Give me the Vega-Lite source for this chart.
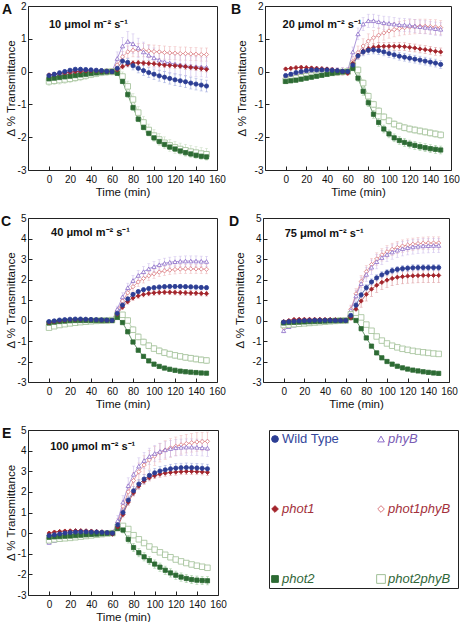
{
"$schema":"https://vega.github.io/schema/vega-lite/v6.json",
"padding":0,
"background":"white",
"config":{
 "font":"Liberation Sans",
 "view":{"stroke":"#222","strokeWidth":1},
 "axis":{"grid":false,"domain":false,"labelFont":"Liberation Sans","labelFontSize":10,"labelColor":"#111","titleFont":"Liberation Sans","titleFontSize":11.5,"titleFontWeight":"normal","titleColor":"#111","tickColor":"#222","tickSize":-4,"tickWidth":1,"labelOverlap":false,"tickCount":20},
 "axisX":{"labelPadding":8,"titlePadding":2},
 "axisY":{"labelPadding":6,"titlePadding":1,"labelExpr":"''+datum.value"},
 "title":{"font":"Liberation Sans","fontSize":14,"fontWeight":"bold","color":"#111","anchor":"start","frame":"group","offset":-16,"baseline":"alphabetic"}
},
"datasets":{
"A":[
{"g":"1b","t":0,"v":-0.2,"e":0.1},{"g":"1b","t":5,"v":-0.17,"e":0.1},{"g":"1b","t":10,"v":-0.14,"e":0.1},{"g":"1b","t":15,"v":-0.11,"e":0.1},{"g":"1b","t":20,"v":-0.08,"e":0.1},{"g":"1b","t":25,"v":-0.06,"e":0.1},{"g":"1b","t":30,"v":-0.04,"e":0.1},{"g":"1b","t":35,"v":-0.03,"e":0.1},{"g":"1b","t":40,"v":-0.02,"e":0.1},{"g":"1b","t":45,"v":-0.01,"e":0.1},{"g":"1b","t":50,"v":0,"e":0.1},{"g":"1b","t":55,"v":0,"e":0.1},{"g":"1b","t":60,"v":0,"e":0.1},{"g":"1b","t":65,"v":0.2,"e":0.13},{"g":"1b","t":70,"v":0.45,"e":0.16},{"g":"1b","t":75,"v":0.6,"e":0.18},{"g":"1b","t":80,"v":0.65,"e":0.2},{"g":"1b","t":85,"v":0.66,"e":0.2},{"g":"1b","t":90,"v":0.65,"e":0.2},{"g":"1b","t":95,"v":0.63,"e":0.2},{"g":"1b","t":100,"v":0.61,"e":0.2},{"g":"1b","t":105,"v":0.6,"e":0.2},{"g":"1b","t":110,"v":0.58,"e":0.2},{"g":"1b","t":115,"v":0.57,"e":0.2},{"g":"1b","t":120,"v":0.56,"e":0.2},{"g":"1b","t":125,"v":0.55,"e":0.2},{"g":"1b","t":130,"v":0.55,"e":0.2},{"g":"1b","t":135,"v":0.54,"e":0.2},{"g":"1b","t":140,"v":0.53,"e":0.2},{"g":"1b","t":145,"v":0.52,"e":0.2},{"g":"1b","t":150,"v":0.52,"e":0.2},
{"g":"b","t":0,"v":-0.15,"e":0.08},{"g":"b","t":5,"v":-0.1,"e":0.08},{"g":"b","t":10,"v":-0.06,"e":0.08},{"g":"b","t":15,"v":-0.03,"e":0.08},{"g":"b","t":20,"v":0,"e":0.08},{"g":"b","t":25,"v":0.02,"e":0.08},{"g":"b","t":30,"v":0.03,"e":0.08},{"g":"b","t":35,"v":0.03,"e":0.08},{"g":"b","t":40,"v":0.02,"e":0.08},{"g":"b","t":45,"v":0.02,"e":0.08},{"g":"b","t":50,"v":0.01,"e":0.08},{"g":"b","t":55,"v":0,"e":0.08},{"g":"b","t":60,"v":0,"e":0.08},{"g":"b","t":65,"v":0.4,"e":0.2},{"g":"b","t":70,"v":0.78,"e":0.26},{"g":"b","t":75,"v":0.92,"e":0.3},{"g":"b","t":80,"v":0.85,"e":0.3},{"g":"b","t":85,"v":0.72,"e":0.3},{"g":"b","t":90,"v":0.6,"e":0.3},{"g":"b","t":95,"v":0.5,"e":0.3},{"g":"b","t":100,"v":0.42,"e":0.3},{"g":"b","t":105,"v":0.35,"e":0.3},{"g":"b","t":110,"v":0.3,"e":0.3},{"g":"b","t":115,"v":0.26,"e":0.3},{"g":"b","t":120,"v":0.23,"e":0.3},{"g":"b","t":125,"v":0.2,"e":0.3},{"g":"b","t":130,"v":0.18,"e":0.3},{"g":"b","t":135,"v":0.16,"e":0.3},{"g":"b","t":140,"v":0.15,"e":0.3},{"g":"b","t":145,"v":0.14,"e":0.3},{"g":"b","t":150,"v":0.13,"e":0.3},
{"g":"2b","t":0,"v":-0.3,"e":0.12},{"g":"2b","t":5,"v":-0.28,"e":0.12},{"g":"2b","t":10,"v":-0.26,"e":0.12},{"g":"2b","t":15,"v":-0.24,"e":0.12},{"g":"2b","t":20,"v":-0.22,"e":0.12},{"g":"2b","t":25,"v":-0.19,"e":0.12},{"g":"2b","t":30,"v":-0.16,"e":0.12},{"g":"2b","t":35,"v":-0.12,"e":0.12},{"g":"2b","t":40,"v":-0.09,"e":0.1},{"g":"2b","t":45,"v":-0.06,"e":0.1},{"g":"2b","t":50,"v":-0.03,"e":0.1},{"g":"2b","t":55,"v":-0.01,"e":0.1},{"g":"2b","t":60,"v":0,"e":0.1},{"g":"2b","t":65,"v":0,"e":0.12},{"g":"2b","t":70,"v":-0.15,"e":0.14},{"g":"2b","t":75,"v":-0.45,"e":0.16},{"g":"2b","t":80,"v":-0.85,"e":0.18},{"g":"2b","t":85,"v":-1.25,"e":0.18},{"g":"2b","t":90,"v":-1.55,"e":0.18},{"g":"2b","t":95,"v":-1.78,"e":0.18},{"g":"2b","t":100,"v":-1.95,"e":0.18},{"g":"2b","t":105,"v":-2.07,"e":0.18},{"g":"2b","t":110,"v":-2.17,"e":0.18},{"g":"2b","t":115,"v":-2.25,"e":0.18},{"g":"2b","t":120,"v":-2.31,"e":0.18},{"g":"2b","t":125,"v":-2.36,"e":0.18},{"g":"2b","t":130,"v":-2.4,"e":0.18},{"g":"2b","t":135,"v":-2.44,"e":0.18},{"g":"2b","t":140,"v":-2.47,"e":0.18},{"g":"2b","t":145,"v":-2.5,"e":0.18},{"g":"2b","t":150,"v":-2.52,"e":0.18},
{"g":"2","t":0,"v":-0.22,"e":0.05},{"g":"2","t":5,"v":-0.2,"e":0.05},{"g":"2","t":10,"v":-0.18,"e":0.05},{"g":"2","t":15,"v":-0.16,"e":0.05},{"g":"2","t":20,"v":-0.14,"e":0.05},{"g":"2","t":25,"v":-0.12,"e":0.05},{"g":"2","t":30,"v":-0.1,"e":0.05},{"g":"2","t":35,"v":-0.08,"e":0.05},{"g":"2","t":40,"v":-0.06,"e":0.05},{"g":"2","t":45,"v":-0.04,"e":0.05},{"g":"2","t":50,"v":-0.02,"e":0.05},{"g":"2","t":55,"v":-0.01,"e":0.05},{"g":"2","t":60,"v":0,"e":0.05},{"g":"2","t":65,"v":-0.05,"e":0.06},{"g":"2","t":70,"v":-0.3,"e":0.07},{"g":"2","t":75,"v":-0.7,"e":0.08},{"g":"2","t":80,"v":-1.1,"e":0.08},{"g":"2","t":85,"v":-1.45,"e":0.08},{"g":"2","t":90,"v":-1.7,"e":0.08},{"g":"2","t":95,"v":-1.88,"e":0.08},{"g":"2","t":100,"v":-2.02,"e":0.08},{"g":"2","t":105,"v":-2.13,"e":0.08},{"g":"2","t":110,"v":-2.22,"e":0.08},{"g":"2","t":115,"v":-2.3,"e":0.08},{"g":"2","t":120,"v":-2.36,"e":0.08},{"g":"2","t":125,"v":-2.42,"e":0.08},{"g":"2","t":130,"v":-2.47,"e":0.08},{"g":"2","t":135,"v":-2.51,"e":0.08},{"g":"2","t":140,"v":-2.55,"e":0.08},{"g":"2","t":145,"v":-2.58,"e":0.08},{"g":"2","t":150,"v":-2.6,"e":0.08},
{"g":"1","t":0,"v":-0.1,"e":0.05},{"g":"1","t":5,"v":-0.08,"e":0.05},{"g":"1","t":10,"v":-0.06,"e":0.05},{"g":"1","t":15,"v":-0.04,"e":0.05},{"g":"1","t":20,"v":-0.02,"e":0.05},{"g":"1","t":25,"v":0,"e":0.05},{"g":"1","t":30,"v":0.01,"e":0.05},{"g":"1","t":35,"v":0.02,"e":0.05},{"g":"1","t":40,"v":0.02,"e":0.05},{"g":"1","t":45,"v":0.02,"e":0.05},{"g":"1","t":50,"v":0.01,"e":0.05},{"g":"1","t":55,"v":0,"e":0.05},{"g":"1","t":60,"v":0,"e":0.05},{"g":"1","t":65,"v":0.05,"e":0.06},{"g":"1","t":70,"v":0.15,"e":0.07},{"g":"1","t":75,"v":0.22,"e":0.08},{"g":"1","t":80,"v":0.26,"e":0.08},{"g":"1","t":85,"v":0.27,"e":0.08},{"g":"1","t":90,"v":0.26,"e":0.08},{"g":"1","t":95,"v":0.25,"e":0.08},{"g":"1","t":100,"v":0.24,"e":0.08},{"g":"1","t":105,"v":0.22,"e":0.08},{"g":"1","t":110,"v":0.2,"e":0.08},{"g":"1","t":115,"v":0.19,"e":0.08},{"g":"1","t":120,"v":0.18,"e":0.08},{"g":"1","t":125,"v":0.17,"e":0.08},{"g":"1","t":130,"v":0.15,"e":0.08},{"g":"1","t":135,"v":0.13,"e":0.08},{"g":"1","t":140,"v":0.11,"e":0.08},{"g":"1","t":145,"v":0.09,"e":0.08},{"g":"1","t":150,"v":0.07,"e":0.08},
{"g":"w","t":0,"v":-0.12,"e":0.06},{"g":"w","t":5,"v":-0.08,"e":0.06},{"g":"w","t":10,"v":-0.04,"e":0.06},{"g":"w","t":15,"v":0,"e":0.06},{"g":"w","t":20,"v":0.04,"e":0.06},{"g":"w","t":25,"v":0.07,"e":0.06},{"g":"w","t":30,"v":0.07,"e":0.06},{"g":"w","t":35,"v":0.06,"e":0.06},{"g":"w","t":40,"v":0.05,"e":0.06},{"g":"w","t":45,"v":0.04,"e":0.06},{"g":"w","t":50,"v":0.03,"e":0.06},{"g":"w","t":55,"v":0.01,"e":0.06},{"g":"w","t":60,"v":0,"e":0.06},{"g":"w","t":65,"v":0.1,"e":0.08},{"g":"w","t":70,"v":0.32,"e":0.1},{"g":"w","t":75,"v":0.28,"e":0.12},{"g":"w","t":80,"v":0.18,"e":0.13},{"g":"w","t":85,"v":0.1,"e":0.14},{"g":"w","t":90,"v":0.03,"e":0.15},{"g":"w","t":95,"v":-0.03,"e":0.15},{"g":"w","t":100,"v":-0.08,"e":0.16},{"g":"w","t":105,"v":-0.13,"e":0.16},{"g":"w","t":110,"v":-0.17,"e":0.17},{"g":"w","t":115,"v":-0.21,"e":0.17},{"g":"w","t":120,"v":-0.25,"e":0.18},{"g":"w","t":125,"v":-0.28,"e":0.18},{"g":"w","t":130,"v":-0.31,"e":0.18},{"g":"w","t":135,"v":-0.35,"e":0.18},{"g":"w","t":140,"v":-0.38,"e":0.18},{"g":"w","t":145,"v":-0.41,"e":0.18},{"g":"w","t":150,"v":-0.44,"e":0.18}
],
"B":[
{"g":"1b","t":0,"v":-0.2,"e":0.12},{"g":"1b","t":5,"v":-0.16,"e":0.12},{"g":"1b","t":10,"v":-0.12,"e":0.12},{"g":"1b","t":15,"v":-0.09,"e":0.12},{"g":"1b","t":20,"v":-0.06,"e":0.12},{"g":"1b","t":25,"v":-0.04,"e":0.12},{"g":"1b","t":30,"v":-0.03,"e":0.12},{"g":"1b","t":35,"v":-0.02,"e":0.12},{"g":"1b","t":40,"v":-0.01,"e":0.12},{"g":"1b","t":45,"v":0,"e":0.12},{"g":"1b","t":50,"v":0,"e":0.12},{"g":"1b","t":55,"v":0,"e":0.12},{"g":"1b","t":60,"v":0,"e":0.12},{"g":"1b","t":65,"v":0.3,"e":0.16},{"g":"1b","t":70,"v":0.58,"e":0.2},{"g":"1b","t":75,"v":0.78,"e":0.22},{"g":"1b","t":80,"v":0.93,"e":0.22},{"g":"1b","t":85,"v":1.03,"e":0.22},{"g":"1b","t":90,"v":1.11,"e":0.22},{"g":"1b","t":95,"v":1.18,"e":0.22},{"g":"1b","t":100,"v":1.24,"e":0.22},{"g":"1b","t":105,"v":1.28,"e":0.22},{"g":"1b","t":110,"v":1.31,"e":0.22},{"g":"1b","t":115,"v":1.34,"e":0.22},{"g":"1b","t":120,"v":1.36,"e":0.22},{"g":"1b","t":125,"v":1.37,"e":0.22},{"g":"1b","t":130,"v":1.38,"e":0.22},{"g":"1b","t":135,"v":1.38,"e":0.22},{"g":"1b","t":140,"v":1.37,"e":0.22},{"g":"1b","t":145,"v":1.36,"e":0.22},{"g":"1b","t":150,"v":1.34,"e":0.22},
{"g":"b","t":0,"v":-0.18,"e":0.1},{"g":"b","t":5,"v":-0.13,"e":0.1},{"g":"b","t":10,"v":-0.09,"e":0.1},{"g":"b","t":15,"v":-0.06,"e":0.1},{"g":"b","t":20,"v":-0.03,"e":0.1},{"g":"b","t":25,"v":-0.01,"e":0.1},{"g":"b","t":30,"v":0,"e":0.1},{"g":"b","t":35,"v":0.01,"e":0.1},{"g":"b","t":40,"v":0.02,"e":0.1},{"g":"b","t":45,"v":0.02,"e":0.1},{"g":"b","t":50,"v":0.02,"e":0.1},{"g":"b","t":55,"v":0.02,"e":0.1},{"g":"b","t":60,"v":0.02,"e":0.1},{"g":"b","t":65,"v":0.6,"e":0.15},{"g":"b","t":70,"v":1.15,"e":0.18},{"g":"b","t":75,"v":1.45,"e":0.2},{"g":"b","t":80,"v":1.55,"e":0.2},{"g":"b","t":85,"v":1.55,"e":0.2},{"g":"b","t":90,"v":1.52,"e":0.2},{"g":"b","t":95,"v":1.49,"e":0.2},{"g":"b","t":100,"v":1.47,"e":0.2},{"g":"b","t":105,"v":1.45,"e":0.2},{"g":"b","t":110,"v":1.43,"e":0.2},{"g":"b","t":115,"v":1.42,"e":0.2},{"g":"b","t":120,"v":1.41,"e":0.2},{"g":"b","t":125,"v":1.39,"e":0.2},{"g":"b","t":130,"v":1.37,"e":0.2},{"g":"b","t":135,"v":1.35,"e":0.2},{"g":"b","t":140,"v":1.33,"e":0.2},{"g":"b","t":145,"v":1.31,"e":0.2},{"g":"b","t":150,"v":1.29,"e":0.2},
{"g":"2b","t":0,"v":-0.28,"e":0.08},{"g":"2b","t":5,"v":-0.24,"e":0.08},{"g":"2b","t":10,"v":-0.2,"e":0.08},{"g":"2b","t":15,"v":-0.17,"e":0.08},{"g":"2b","t":20,"v":-0.14,"e":0.08},{"g":"2b","t":25,"v":-0.12,"e":0.08},{"g":"2b","t":30,"v":-0.1,"e":0.08},{"g":"2b","t":35,"v":-0.08,"e":0.08},{"g":"2b","t":40,"v":-0.06,"e":0.08},{"g":"2b","t":45,"v":-0.04,"e":0.08},{"g":"2b","t":50,"v":-0.02,"e":0.08},{"g":"2b","t":55,"v":-0.01,"e":0.08},{"g":"2b","t":60,"v":0,"e":0.08},{"g":"2b","t":65,"v":0.2,"e":0.1},{"g":"2b","t":70,"v":0.05,"e":0.1},{"g":"2b","t":75,"v":-0.35,"e":0.1},{"g":"2b","t":80,"v":-0.75,"e":0.1},{"g":"2b","t":85,"v":-1,"e":0.1},{"g":"2b","t":90,"v":-1.2,"e":0.1},{"g":"2b","t":95,"v":-1.38,"e":0.1},{"g":"2b","t":100,"v":-1.5,"e":0.1},{"g":"2b","t":105,"v":-1.6,"e":0.1},{"g":"2b","t":110,"v":-1.66,"e":0.1},{"g":"2b","t":115,"v":-1.71,"e":0.1},{"g":"2b","t":120,"v":-1.75,"e":0.1},{"g":"2b","t":125,"v":-1.78,"e":0.1},{"g":"2b","t":130,"v":-1.81,"e":0.1},{"g":"2b","t":135,"v":-1.84,"e":0.1},{"g":"2b","t":140,"v":-1.87,"e":0.1},{"g":"2b","t":145,"v":-1.9,"e":0.1},{"g":"2b","t":150,"v":-1.93,"e":0.1},
{"g":"2","t":0,"v":-0.3,"e":0.06},{"g":"2","t":5,"v":-0.28,"e":0.06},{"g":"2","t":10,"v":-0.26,"e":0.06},{"g":"2","t":15,"v":-0.23,"e":0.06},{"g":"2","t":20,"v":-0.2,"e":0.06},{"g":"2","t":25,"v":-0.17,"e":0.06},{"g":"2","t":30,"v":-0.14,"e":0.06},{"g":"2","t":35,"v":-0.11,"e":0.06},{"g":"2","t":40,"v":-0.08,"e":0.06},{"g":"2","t":45,"v":-0.05,"e":0.06},{"g":"2","t":50,"v":-0.03,"e":0.06},{"g":"2","t":55,"v":-0.01,"e":0.06},{"g":"2","t":60,"v":0,"e":0.06},{"g":"2","t":65,"v":0.1,"e":0.08},{"g":"2","t":70,"v":-0.2,"e":0.1},{"g":"2","t":75,"v":-0.6,"e":0.12},{"g":"2","t":80,"v":-0.95,"e":0.12},{"g":"2","t":85,"v":-1.3,"e":0.12},{"g":"2","t":90,"v":-1.55,"e":0.12},{"g":"2","t":95,"v":-1.75,"e":0.12},{"g":"2","t":100,"v":-1.9,"e":0.12},{"g":"2","t":105,"v":-2.02,"e":0.12},{"g":"2","t":110,"v":-2.1,"e":0.12},{"g":"2","t":115,"v":-2.16,"e":0.12},{"g":"2","t":120,"v":-2.21,"e":0.12},{"g":"2","t":125,"v":-2.25,"e":0.12},{"g":"2","t":130,"v":-2.29,"e":0.12},{"g":"2","t":135,"v":-2.32,"e":0.12},{"g":"2","t":140,"v":-2.35,"e":0.12},{"g":"2","t":145,"v":-2.37,"e":0.12},{"g":"2","t":150,"v":-2.39,"e":0.12},
{"g":"1","t":0,"v":0.08,"e":0.05},{"g":"1","t":5,"v":0.1,"e":0.05},{"g":"1","t":10,"v":0.12,"e":0.05},{"g":"1","t":15,"v":0.13,"e":0.05},{"g":"1","t":20,"v":0.12,"e":0.05},{"g":"1","t":25,"v":0.11,"e":0.05},{"g":"1","t":30,"v":0.1,"e":0.05},{"g":"1","t":35,"v":0.09,"e":0.05},{"g":"1","t":40,"v":0.08,"e":0.05},{"g":"1","t":45,"v":0.06,"e":0.05},{"g":"1","t":50,"v":0.04,"e":0.05},{"g":"1","t":55,"v":0.01,"e":0.05},{"g":"1","t":60,"v":-0.05,"e":0.05},{"g":"1","t":65,"v":0.25,"e":0.08},{"g":"1","t":70,"v":0.5,"e":0.1},{"g":"1","t":75,"v":0.63,"e":0.12},{"g":"1","t":80,"v":0.7,"e":0.12},{"g":"1","t":85,"v":0.74,"e":0.12},{"g":"1","t":90,"v":0.76,"e":0.12},{"g":"1","t":95,"v":0.77,"e":0.12},{"g":"1","t":100,"v":0.77,"e":0.12},{"g":"1","t":105,"v":0.77,"e":0.12},{"g":"1","t":110,"v":0.77,"e":0.12},{"g":"1","t":115,"v":0.76,"e":0.12},{"g":"1","t":120,"v":0.74,"e":0.12},{"g":"1","t":125,"v":0.72,"e":0.12},{"g":"1","t":130,"v":0.69,"e":0.12},{"g":"1","t":135,"v":0.67,"e":0.12},{"g":"1","t":140,"v":0.65,"e":0.12},{"g":"1","t":145,"v":0.62,"e":0.12},{"g":"1","t":150,"v":0.6,"e":0.12},
{"g":"w","t":0,"v":-0.12,"e":0.05},{"g":"w","t":5,"v":-0.08,"e":0.05},{"g":"w","t":10,"v":-0.03,"e":0.05},{"g":"w","t":15,"v":0,"e":0.05},{"g":"w","t":20,"v":0.03,"e":0.05},{"g":"w","t":25,"v":0.05,"e":0.05},{"g":"w","t":30,"v":0.05,"e":0.05},{"g":"w","t":35,"v":0.05,"e":0.05},{"g":"w","t":40,"v":0.05,"e":0.05},{"g":"w","t":45,"v":0.04,"e":0.05},{"g":"w","t":50,"v":0.03,"e":0.05},{"g":"w","t":55,"v":0.01,"e":0.05},{"g":"w","t":60,"v":0,"e":0.05},{"g":"w","t":65,"v":0.2,"e":0.08},{"g":"w","t":70,"v":0.48,"e":0.1},{"g":"w","t":75,"v":0.6,"e":0.12},{"g":"w","t":80,"v":0.65,"e":0.12},{"g":"w","t":85,"v":0.66,"e":0.12},{"g":"w","t":90,"v":0.64,"e":0.12},{"g":"w","t":95,"v":0.6,"e":0.12},{"g":"w","t":100,"v":0.55,"e":0.12},{"g":"w","t":105,"v":0.51,"e":0.12},{"g":"w","t":110,"v":0.47,"e":0.12},{"g":"w","t":115,"v":0.44,"e":0.12},{"g":"w","t":120,"v":0.41,"e":0.12},{"g":"w","t":125,"v":0.38,"e":0.12},{"g":"w","t":130,"v":0.35,"e":0.12},{"g":"w","t":135,"v":0.32,"e":0.12},{"g":"w","t":140,"v":0.29,"e":0.12},{"g":"w","t":145,"v":0.26,"e":0.12},{"g":"w","t":150,"v":0.22,"e":0.12}
],
"C":[
{"g":"1b","t":0,"v":-0.15,"e":0.08},{"g":"1b","t":5,"v":-0.11,"e":0.08},{"g":"1b","t":10,"v":-0.07,"e":0.08},{"g":"1b","t":15,"v":-0.04,"e":0.08},{"g":"1b","t":20,"v":-0.02,"e":0.08},{"g":"1b","t":25,"v":0,"e":0.08},{"g":"1b","t":30,"v":0.01,"e":0.08},{"g":"1b","t":35,"v":0.01,"e":0.08},{"g":"1b","t":40,"v":0.01,"e":0.08},{"g":"1b","t":45,"v":0.01,"e":0.08},{"g":"1b","t":50,"v":0.01,"e":0.08},{"g":"1b","t":55,"v":0,"e":0.08},{"g":"1b","t":60,"v":0,"e":0.08},{"g":"1b","t":65,"v":0.45,"e":0.15},{"g":"1b","t":70,"v":0.95,"e":0.18},{"g":"1b","t":75,"v":1.35,"e":0.2},{"g":"1b","t":80,"v":1.65,"e":0.22},{"g":"1b","t":85,"v":1.88,"e":0.22},{"g":"1b","t":90,"v":2.05,"e":0.22},{"g":"1b","t":95,"v":2.18,"e":0.22},{"g":"1b","t":100,"v":2.28,"e":0.22},{"g":"1b","t":105,"v":2.36,"e":0.22},{"g":"1b","t":110,"v":2.42,"e":0.22},{"g":"1b","t":115,"v":2.46,"e":0.22},{"g":"1b","t":120,"v":2.49,"e":0.22},{"g":"1b","t":125,"v":2.51,"e":0.22},{"g":"1b","t":130,"v":2.52,"e":0.22},{"g":"1b","t":135,"v":2.52,"e":0.22},{"g":"1b","t":140,"v":2.52,"e":0.22},{"g":"1b","t":145,"v":2.51,"e":0.22},{"g":"1b","t":150,"v":2.5,"e":0.22},
{"g":"b","t":0,"v":-0.1,"e":0.06},{"g":"b","t":5,"v":-0.07,"e":0.06},{"g":"b","t":10,"v":-0.04,"e":0.06},{"g":"b","t":15,"v":-0.01,"e":0.06},{"g":"b","t":20,"v":0.01,"e":0.06},{"g":"b","t":25,"v":0.02,"e":0.06},{"g":"b","t":30,"v":0.03,"e":0.06},{"g":"b","t":35,"v":0.03,"e":0.06},{"g":"b","t":40,"v":0.03,"e":0.06},{"g":"b","t":45,"v":0.02,"e":0.06},{"g":"b","t":50,"v":0.02,"e":0.06},{"g":"b","t":55,"v":0.01,"e":0.06},{"g":"b","t":60,"v":0,"e":0.06},{"g":"b","t":65,"v":0.55,"e":0.15},{"g":"b","t":70,"v":1.15,"e":0.2},{"g":"b","t":75,"v":1.6,"e":0.22},{"g":"b","t":80,"v":1.95,"e":0.25},{"g":"b","t":85,"v":2.2,"e":0.25},{"g":"b","t":90,"v":2.38,"e":0.25},{"g":"b","t":95,"v":2.52,"e":0.25},{"g":"b","t":100,"v":2.63,"e":0.25},{"g":"b","t":105,"v":2.72,"e":0.25},{"g":"b","t":110,"v":2.79,"e":0.25},{"g":"b","t":115,"v":2.84,"e":0.25},{"g":"b","t":120,"v":2.87,"e":0.25},{"g":"b","t":125,"v":2.89,"e":0.25},{"g":"b","t":130,"v":2.9,"e":0.25},{"g":"b","t":135,"v":2.9,"e":0.25},{"g":"b","t":140,"v":2.9,"e":0.25},{"g":"b","t":145,"v":2.89,"e":0.25},{"g":"b","t":150,"v":2.88,"e":0.25},
{"g":"2b","t":0,"v":-0.35,"e":0.1},{"g":"2b","t":5,"v":-0.28,"e":0.1},{"g":"2b","t":10,"v":-0.22,"e":0.1},{"g":"2b","t":15,"v":-0.18,"e":0.1},{"g":"2b","t":20,"v":-0.14,"e":0.1},{"g":"2b","t":25,"v":-0.11,"e":0.1},{"g":"2b","t":30,"v":-0.08,"e":0.1},{"g":"2b","t":35,"v":-0.06,"e":0.1},{"g":"2b","t":40,"v":-0.04,"e":0.1},{"g":"2b","t":45,"v":-0.02,"e":0.1},{"g":"2b","t":50,"v":-0.01,"e":0.1},{"g":"2b","t":55,"v":0,"e":0.1},{"g":"2b","t":60,"v":0.02,"e":0.1},{"g":"2b","t":65,"v":0.25,"e":0.12},{"g":"2b","t":70,"v":0.28,"e":0.12},{"g":"2b","t":75,"v":0,"e":0.14},{"g":"2b","t":80,"v":-0.45,"e":0.15},{"g":"2b","t":85,"v":-0.8,"e":0.15},{"g":"2b","t":90,"v":-1.05,"e":0.15},{"g":"2b","t":95,"v":-1.23,"e":0.15},{"g":"2b","t":100,"v":-1.37,"e":0.15},{"g":"2b","t":105,"v":-1.48,"e":0.15},{"g":"2b","t":110,"v":-1.57,"e":0.15},{"g":"2b","t":115,"v":-1.64,"e":0.15},{"g":"2b","t":120,"v":-1.7,"e":0.15},{"g":"2b","t":125,"v":-1.75,"e":0.15},{"g":"2b","t":130,"v":-1.8,"e":0.15},{"g":"2b","t":135,"v":-1.84,"e":0.15},{"g":"2b","t":140,"v":-1.88,"e":0.15},{"g":"2b","t":145,"v":-1.92,"e":0.15},{"g":"2b","t":150,"v":-1.95,"e":0.15},
{"g":"2","t":0,"v":-0.12,"e":0.05},{"g":"2","t":5,"v":-0.08,"e":0.05},{"g":"2","t":10,"v":-0.05,"e":0.05},{"g":"2","t":15,"v":-0.03,"e":0.05},{"g":"2","t":20,"v":-0.01,"e":0.05},{"g":"2","t":25,"v":0,"e":0.05},{"g":"2","t":30,"v":0,"e":0.05},{"g":"2","t":35,"v":0,"e":0.05},{"g":"2","t":40,"v":0,"e":0.05},{"g":"2","t":45,"v":0,"e":0.05},{"g":"2","t":50,"v":0,"e":0.05},{"g":"2","t":55,"v":0,"e":0.05},{"g":"2","t":60,"v":0,"e":0.05},{"g":"2","t":65,"v":0.15,"e":0.06},{"g":"2","t":70,"v":-0.1,"e":0.06},{"g":"2","t":75,"v":-0.55,"e":0.06},{"g":"2","t":80,"v":-1.05,"e":0.06},{"g":"2","t":85,"v":-1.45,"e":0.06},{"g":"2","t":90,"v":-1.75,"e":0.06},{"g":"2","t":95,"v":-1.97,"e":0.06},{"g":"2","t":100,"v":-2.13,"e":0.06},{"g":"2","t":105,"v":-2.24,"e":0.06},{"g":"2","t":110,"v":-2.32,"e":0.06},{"g":"2","t":115,"v":-2.38,"e":0.06},{"g":"2","t":120,"v":-2.43,"e":0.06},{"g":"2","t":125,"v":-2.47,"e":0.06},{"g":"2","t":130,"v":-2.5,"e":0.06},{"g":"2","t":135,"v":-2.52,"e":0.06},{"g":"2","t":140,"v":-2.54,"e":0.06},{"g":"2","t":145,"v":-2.56,"e":0.06},{"g":"2","t":150,"v":-2.57,"e":0.06},
{"g":"1","t":0,"v":-0.1,"e":0.05},{"g":"1","t":5,"v":-0.06,"e":0.05},{"g":"1","t":10,"v":-0.02,"e":0.05},{"g":"1","t":15,"v":0.01,"e":0.05},{"g":"1","t":20,"v":0.03,"e":0.05},{"g":"1","t":25,"v":0.04,"e":0.05},{"g":"1","t":30,"v":0.05,"e":0.05},{"g":"1","t":35,"v":0.05,"e":0.05},{"g":"1","t":40,"v":0.04,"e":0.05},{"g":"1","t":45,"v":0.03,"e":0.05},{"g":"1","t":50,"v":0.02,"e":0.05},{"g":"1","t":55,"v":0.01,"e":0.05},{"g":"1","t":60,"v":0,"e":0.05},{"g":"1","t":65,"v":0.3,"e":0.08},{"g":"1","t":70,"v":0.65,"e":0.1},{"g":"1","t":75,"v":0.92,"e":0.12},{"g":"1","t":80,"v":1.1,"e":0.12},{"g":"1","t":85,"v":1.2,"e":0.12},{"g":"1","t":90,"v":1.27,"e":0.12},{"g":"1","t":95,"v":1.32,"e":0.12},{"g":"1","t":100,"v":1.35,"e":0.12},{"g":"1","t":105,"v":1.37,"e":0.12},{"g":"1","t":110,"v":1.38,"e":0.12},{"g":"1","t":115,"v":1.38,"e":0.12},{"g":"1","t":120,"v":1.37,"e":0.12},{"g":"1","t":125,"v":1.36,"e":0.12},{"g":"1","t":130,"v":1.35,"e":0.12},{"g":"1","t":135,"v":1.34,"e":0.12},{"g":"1","t":140,"v":1.33,"e":0.12},{"g":"1","t":145,"v":1.32,"e":0.12},{"g":"1","t":150,"v":1.31,"e":0.12},
{"g":"w","t":0,"v":-0.05,"e":0.05},{"g":"w","t":5,"v":-0.02,"e":0.05},{"g":"w","t":10,"v":0.02,"e":0.05},{"g":"w","t":15,"v":0.04,"e":0.05},{"g":"w","t":20,"v":0.06,"e":0.05},{"g":"w","t":25,"v":0.07,"e":0.05},{"g":"w","t":30,"v":0.07,"e":0.05},{"g":"w","t":35,"v":0.06,"e":0.05},{"g":"w","t":40,"v":0.05,"e":0.05},{"g":"w","t":45,"v":0.04,"e":0.05},{"g":"w","t":50,"v":0.03,"e":0.05},{"g":"w","t":55,"v":0.02,"e":0.05},{"g":"w","t":60,"v":0,"e":0.05},{"g":"w","t":65,"v":0.35,"e":0.08},{"g":"w","t":70,"v":0.75,"e":0.1},{"g":"w","t":75,"v":1.05,"e":0.1},{"g":"w","t":80,"v":1.27,"e":0.1},{"g":"w","t":85,"v":1.41,"e":0.1},{"g":"w","t":90,"v":1.5,"e":0.1},{"g":"w","t":95,"v":1.56,"e":0.1},{"g":"w","t":100,"v":1.6,"e":0.1},{"g":"w","t":105,"v":1.63,"e":0.1},{"g":"w","t":110,"v":1.65,"e":0.1},{"g":"w","t":115,"v":1.66,"e":0.1},{"g":"w","t":120,"v":1.66,"e":0.1},{"g":"w","t":125,"v":1.66,"e":0.1},{"g":"w","t":130,"v":1.65,"e":0.1},{"g":"w","t":135,"v":1.64,"e":0.1},{"g":"w","t":140,"v":1.63,"e":0.1},{"g":"w","t":145,"v":1.61,"e":0.1},{"g":"w","t":150,"v":1.6,"e":0.1}
],
"D":[
{"g":"1b","t":0,"v":-0.35,"e":0.1},{"g":"1b","t":5,"v":-0.25,"e":0.1},{"g":"1b","t":10,"v":-0.18,"e":0.1},{"g":"1b","t":15,"v":-0.14,"e":0.1},{"g":"1b","t":20,"v":-0.11,"e":0.1},{"g":"1b","t":25,"v":-0.09,"e":0.1},{"g":"1b","t":30,"v":-0.07,"e":0.1},{"g":"1b","t":35,"v":-0.05,"e":0.1},{"g":"1b","t":40,"v":-0.04,"e":0.1},{"g":"1b","t":45,"v":-0.03,"e":0.1},{"g":"1b","t":50,"v":-0.02,"e":0.1},{"g":"1b","t":55,"v":-0.01,"e":0.1},{"g":"1b","t":60,"v":0,"e":0.1},{"g":"1b","t":65,"v":0.55,"e":0.2},{"g":"1b","t":70,"v":1.3,"e":0.25},{"g":"1b","t":75,"v":1.9,"e":0.3},{"g":"1b","t":80,"v":2.38,"e":0.3},{"g":"1b","t":85,"v":2.73,"e":0.3},{"g":"1b","t":90,"v":3,"e":0.3},{"g":"1b","t":95,"v":3.2,"e":0.3},{"g":"1b","t":100,"v":3.35,"e":0.3},{"g":"1b","t":105,"v":3.47,"e":0.3},{"g":"1b","t":110,"v":3.56,"e":0.3},{"g":"1b","t":115,"v":3.63,"e":0.3},{"g":"1b","t":120,"v":3.68,"e":0.3},{"g":"1b","t":125,"v":3.72,"e":0.3},{"g":"1b","t":130,"v":3.75,"e":0.3},{"g":"1b","t":135,"v":3.77,"e":0.3},{"g":"1b","t":140,"v":3.78,"e":0.3},{"g":"1b","t":145,"v":3.78,"e":0.3},{"g":"1b","t":150,"v":3.78,"e":0.3},
{"g":"b","t":0,"v":-0.5,"e":0.1},{"g":"b","t":5,"v":-0.3,"e":0.1},{"g":"b","t":10,"v":-0.22,"e":0.1},{"g":"b","t":15,"v":-0.18,"e":0.1},{"g":"b","t":20,"v":-0.15,"e":0.1},{"g":"b","t":25,"v":-0.12,"e":0.1},{"g":"b","t":30,"v":-0.1,"e":0.1},{"g":"b","t":35,"v":-0.08,"e":0.1},{"g":"b","t":40,"v":-0.06,"e":0.1},{"g":"b","t":45,"v":-0.04,"e":0.1},{"g":"b","t":50,"v":-0.03,"e":0.1},{"g":"b","t":55,"v":-0.01,"e":0.1},{"g":"b","t":60,"v":0,"e":0.1},{"g":"b","t":65,"v":0.5,"e":0.2},{"g":"b","t":70,"v":1.2,"e":0.28},{"g":"b","t":75,"v":1.8,"e":0.32},{"g":"b","t":80,"v":2.25,"e":0.35},{"g":"b","t":85,"v":2.6,"e":0.35},{"g":"b","t":90,"v":2.87,"e":0.35},{"g":"b","t":95,"v":3.07,"e":0.35},{"g":"b","t":100,"v":3.22,"e":0.35},{"g":"b","t":105,"v":3.34,"e":0.35},{"g":"b","t":110,"v":3.43,"e":0.35},{"g":"b","t":115,"v":3.5,"e":0.35},{"g":"b","t":120,"v":3.55,"e":0.35},{"g":"b","t":125,"v":3.59,"e":0.35},{"g":"b","t":130,"v":3.62,"e":0.35},{"g":"b","t":135,"v":3.64,"e":0.35},{"g":"b","t":140,"v":3.65,"e":0.35},{"g":"b","t":145,"v":3.66,"e":0.35},{"g":"b","t":150,"v":3.66,"e":0.35},
{"g":"2b","t":0,"v":-0.22,"e":0.05},{"g":"2b","t":5,"v":-0.2,"e":0.05},{"g":"2b","t":10,"v":-0.18,"e":0.05},{"g":"2b","t":15,"v":-0.16,"e":0.05},{"g":"2b","t":20,"v":-0.14,"e":0.05},{"g":"2b","t":25,"v":-0.12,"e":0.05},{"g":"2b","t":30,"v":-0.1,"e":0.05},{"g":"2b","t":35,"v":-0.08,"e":0.05},{"g":"2b","t":40,"v":-0.06,"e":0.05},{"g":"2b","t":45,"v":-0.04,"e":0.05},{"g":"2b","t":50,"v":-0.02,"e":0.05},{"g":"2b","t":55,"v":-0.01,"e":0.05},{"g":"2b","t":60,"v":0,"e":0.05},{"g":"2b","t":65,"v":0.3,"e":0.06},{"g":"2b","t":70,"v":0.38,"e":0.06},{"g":"2b","t":75,"v":0.15,"e":0.06},{"g":"2b","t":80,"v":-0.2,"e":0.06},{"g":"2b","t":85,"v":-0.5,"e":0.06},{"g":"2b","t":90,"v":-0.78,"e":0.06},{"g":"2b","t":95,"v":-0.98,"e":0.06},{"g":"2b","t":100,"v":-1.12,"e":0.06},{"g":"2b","t":105,"v":-1.23,"e":0.06},{"g":"2b","t":110,"v":-1.31,"e":0.06},{"g":"2b","t":115,"v":-1.38,"e":0.06},{"g":"2b","t":120,"v":-1.43,"e":0.06},{"g":"2b","t":125,"v":-1.48,"e":0.06},{"g":"2b","t":130,"v":-1.52,"e":0.06},{"g":"2b","t":135,"v":-1.55,"e":0.06},{"g":"2b","t":140,"v":-1.58,"e":0.06},{"g":"2b","t":145,"v":-1.61,"e":0.06},{"g":"2b","t":150,"v":-1.63,"e":0.06},
{"g":"2","t":0,"v":-0.12,"e":0.04},{"g":"2","t":5,"v":-0.1,"e":0.04},{"g":"2","t":10,"v":-0.09,"e":0.04},{"g":"2","t":15,"v":-0.08,"e":0.04},{"g":"2","t":20,"v":-0.07,"e":0.04},{"g":"2","t":25,"v":-0.06,"e":0.04},{"g":"2","t":30,"v":-0.05,"e":0.04},{"g":"2","t":35,"v":-0.04,"e":0.04},{"g":"2","t":40,"v":-0.03,"e":0.04},{"g":"2","t":45,"v":-0.02,"e":0.04},{"g":"2","t":50,"v":-0.01,"e":0.04},{"g":"2","t":55,"v":0,"e":0.04},{"g":"2","t":60,"v":0,"e":0.04},{"g":"2","t":65,"v":0.15,"e":0.05},{"g":"2","t":70,"v":0,"e":0.06},{"g":"2","t":75,"v":-0.4,"e":0.06},{"g":"2","t":80,"v":-0.85,"e":0.06},{"g":"2","t":85,"v":-1.25,"e":0.06},{"g":"2","t":90,"v":-1.58,"e":0.06},{"g":"2","t":95,"v":-1.82,"e":0.06},{"g":"2","t":100,"v":-2,"e":0.06},{"g":"2","t":105,"v":-2.13,"e":0.06},{"g":"2","t":110,"v":-2.23,"e":0.06},{"g":"2","t":115,"v":-2.31,"e":0.06},{"g":"2","t":120,"v":-2.37,"e":0.06},{"g":"2","t":125,"v":-2.42,"e":0.06},{"g":"2","t":130,"v":-2.46,"e":0.06},{"g":"2","t":135,"v":-2.5,"e":0.06},{"g":"2","t":140,"v":-2.53,"e":0.06},{"g":"2","t":145,"v":-2.56,"e":0.06},{"g":"2","t":150,"v":-2.58,"e":0.06},
{"g":"1","t":0,"v":-0.05,"e":0.05},{"g":"1","t":5,"v":0,"e":0.05},{"g":"1","t":10,"v":0.05,"e":0.05},{"g":"1","t":15,"v":0.06,"e":0.05},{"g":"1","t":20,"v":0.06,"e":0.05},{"g":"1","t":25,"v":0.06,"e":0.05},{"g":"1","t":30,"v":0.06,"e":0.05},{"g":"1","t":35,"v":0.06,"e":0.05},{"g":"1","t":40,"v":0.05,"e":0.05},{"g":"1","t":45,"v":0.05,"e":0.05},{"g":"1","t":50,"v":0.04,"e":0.05},{"g":"1","t":55,"v":0.02,"e":0.05},{"g":"1","t":60,"v":0,"e":0.05},{"g":"1","t":65,"v":0.15,"e":0.15},{"g":"1","t":70,"v":0.55,"e":0.25},{"g":"1","t":75,"v":0.95,"e":0.3},{"g":"1","t":80,"v":1.28,"e":0.33},{"g":"1","t":85,"v":1.53,"e":0.35},{"g":"1","t":90,"v":1.72,"e":0.35},{"g":"1","t":95,"v":1.86,"e":0.35},{"g":"1","t":100,"v":1.97,"e":0.35},{"g":"1","t":105,"v":2.05,"e":0.35},{"g":"1","t":110,"v":2.11,"e":0.35},{"g":"1","t":115,"v":2.14,"e":0.35},{"g":"1","t":120,"v":2.17,"e":0.35},{"g":"1","t":125,"v":2.18,"e":0.35},{"g":"1","t":130,"v":2.19,"e":0.35},{"g":"1","t":135,"v":2.2,"e":0.35},{"g":"1","t":140,"v":2.2,"e":0.35},{"g":"1","t":145,"v":2.2,"e":0.35},{"g":"1","t":150,"v":2.2,"e":0.35},
{"g":"w","t":0,"v":-0.08,"e":0.05},{"g":"w","t":5,"v":-0.06,"e":0.05},{"g":"w","t":10,"v":-0.04,"e":0.05},{"g":"w","t":15,"v":-0.02,"e":0.05},{"g":"w","t":20,"v":-0.01,"e":0.05},{"g":"w","t":25,"v":0,"e":0.05},{"g":"w","t":30,"v":0.01,"e":0.05},{"g":"w","t":35,"v":0.01,"e":0.05},{"g":"w","t":40,"v":0.01,"e":0.05},{"g":"w","t":45,"v":0.01,"e":0.05},{"g":"w","t":50,"v":0,"e":0.05},{"g":"w","t":55,"v":0,"e":0.05},{"g":"w","t":60,"v":0,"e":0.05},{"g":"w","t":65,"v":0.25,"e":0.1},{"g":"w","t":70,"v":0.75,"e":0.12},{"g":"w","t":75,"v":1.25,"e":0.14},{"g":"w","t":80,"v":1.6,"e":0.15},{"g":"w","t":85,"v":1.88,"e":0.15},{"g":"w","t":90,"v":2.08,"e":0.15},{"g":"w","t":95,"v":2.23,"e":0.15},{"g":"w","t":100,"v":2.34,"e":0.15},{"g":"w","t":105,"v":2.43,"e":0.15},{"g":"w","t":110,"v":2.49,"e":0.15},{"g":"w","t":115,"v":2.53,"e":0.15},{"g":"w","t":120,"v":2.55,"e":0.15},{"g":"w","t":125,"v":2.57,"e":0.15},{"g":"w","t":130,"v":2.58,"e":0.15},{"g":"w","t":135,"v":2.58,"e":0.15},{"g":"w","t":140,"v":2.58,"e":0.15},{"g":"w","t":145,"v":2.58,"e":0.15},{"g":"w","t":150,"v":2.58,"e":0.15}
],
"E":[
{"g":"1b","t":0,"v":-0.35,"e":0.1},{"g":"1b","t":5,"v":-0.27,"e":0.1},{"g":"1b","t":10,"v":-0.21,"e":0.1},{"g":"1b","t":15,"v":-0.17,"e":0.1},{"g":"1b","t":20,"v":-0.14,"e":0.1},{"g":"1b","t":25,"v":-0.11,"e":0.1},{"g":"1b","t":30,"v":-0.09,"e":0.1},{"g":"1b","t":35,"v":-0.07,"e":0.1},{"g":"1b","t":40,"v":-0.05,"e":0.1},{"g":"1b","t":45,"v":-0.04,"e":0.1},{"g":"1b","t":50,"v":-0.02,"e":0.1},{"g":"1b","t":55,"v":-0.01,"e":0.1},{"g":"1b","t":60,"v":0,"e":0.1},{"g":"1b","t":65,"v":0.5,"e":0.2},{"g":"1b","t":70,"v":1.3,"e":0.3},{"g":"1b","t":75,"v":2,"e":0.35},{"g":"1b","t":80,"v":2.55,"e":0.4},{"g":"1b","t":85,"v":2.98,"e":0.42},{"g":"1b","t":90,"v":3.3,"e":0.45},{"g":"1b","t":95,"v":3.55,"e":0.45},{"g":"1b","t":100,"v":3.74,"e":0.45},{"g":"1b","t":105,"v":3.9,"e":0.45},{"g":"1b","t":110,"v":4.03,"e":0.45},{"g":"1b","t":115,"v":4.13,"e":0.45},{"g":"1b","t":120,"v":4.21,"e":0.45},{"g":"1b","t":125,"v":4.28,"e":0.45},{"g":"1b","t":130,"v":4.34,"e":0.45},{"g":"1b","t":135,"v":4.38,"e":0.45},{"g":"1b","t":140,"v":4.42,"e":0.45},{"g":"1b","t":145,"v":4.44,"e":0.45},{"g":"1b","t":150,"v":4.45,"e":0.45},
{"g":"b","t":0,"v":-0.45,"e":0.1},{"g":"b","t":5,"v":-0.35,"e":0.1},{"g":"b","t":10,"v":-0.28,"e":0.1},{"g":"b","t":15,"v":-0.23,"e":0.1},{"g":"b","t":20,"v":-0.19,"e":0.1},{"g":"b","t":25,"v":-0.15,"e":0.1},{"g":"b","t":30,"v":-0.12,"e":0.1},{"g":"b","t":35,"v":-0.09,"e":0.1},{"g":"b","t":40,"v":-0.07,"e":0.1},{"g":"b","t":45,"v":-0.05,"e":0.1},{"g":"b","t":50,"v":-0.03,"e":0.1},{"g":"b","t":55,"v":-0.01,"e":0.1},{"g":"b","t":60,"v":0,"e":0.1},{"g":"b","t":65,"v":0.6,"e":0.25},{"g":"b","t":70,"v":1.5,"e":0.32},{"g":"b","t":75,"v":2.3,"e":0.38},{"g":"b","t":80,"v":2.85,"e":0.4},{"g":"b","t":85,"v":3.25,"e":0.4},{"g":"b","t":90,"v":3.52,"e":0.4},{"g":"b","t":95,"v":3.72,"e":0.4},{"g":"b","t":100,"v":3.86,"e":0.4},{"g":"b","t":105,"v":3.96,"e":0.4},{"g":"b","t":110,"v":4.04,"e":0.4},{"g":"b","t":115,"v":4.1,"e":0.4},{"g":"b","t":120,"v":4.14,"e":0.4},{"g":"b","t":125,"v":4.16,"e":0.4},{"g":"b","t":130,"v":4.17,"e":0.4},{"g":"b","t":135,"v":4.17,"e":0.4},{"g":"b","t":140,"v":4.16,"e":0.4},{"g":"b","t":145,"v":4.14,"e":0.4},{"g":"b","t":150,"v":4.12,"e":0.4},
{"g":"2b","t":0,"v":-0.35,"e":0.08},{"g":"2b","t":5,"v":-0.3,"e":0.08},{"g":"2b","t":10,"v":-0.27,"e":0.08},{"g":"2b","t":15,"v":-0.25,"e":0.08},{"g":"2b","t":20,"v":-0.23,"e":0.08},{"g":"2b","t":25,"v":-0.2,"e":0.08},{"g":"2b","t":30,"v":-0.17,"e":0.08},{"g":"2b","t":35,"v":-0.14,"e":0.08},{"g":"2b","t":40,"v":-0.11,"e":0.08},{"g":"2b","t":45,"v":-0.08,"e":0.08},{"g":"2b","t":50,"v":-0.05,"e":0.08},{"g":"2b","t":55,"v":-0.02,"e":0.08},{"g":"2b","t":60,"v":0,"e":0.08},{"g":"2b","t":65,"v":0.3,"e":0.1},{"g":"2b","t":70,"v":0.35,"e":0.1},{"g":"2b","t":75,"v":0.2,"e":0.1},{"g":"2b","t":80,"v":-0.1,"e":0.1},{"g":"2b","t":85,"v":-0.3,"e":0.1},{"g":"2b","t":90,"v":-0.48,"e":0.1},{"g":"2b","t":95,"v":-0.65,"e":0.1},{"g":"2b","t":100,"v":-0.8,"e":0.1},{"g":"2b","t":105,"v":-0.93,"e":0.1},{"g":"2b","t":110,"v":-1.05,"e":0.1},{"g":"2b","t":115,"v":-1.17,"e":0.1},{"g":"2b","t":120,"v":-1.28,"e":0.1},{"g":"2b","t":125,"v":-1.37,"e":0.1},{"g":"2b","t":130,"v":-1.45,"e":0.1},{"g":"2b","t":135,"v":-1.52,"e":0.1},{"g":"2b","t":140,"v":-1.58,"e":0.1},{"g":"2b","t":145,"v":-1.63,"e":0.1},{"g":"2b","t":150,"v":-1.68,"e":0.1},
{"g":"2","t":0,"v":-0.2,"e":0.06},{"g":"2","t":5,"v":-0.18,"e":0.06},{"g":"2","t":10,"v":-0.17,"e":0.06},{"g":"2","t":15,"v":-0.15,"e":0.06},{"g":"2","t":20,"v":-0.14,"e":0.06},{"g":"2","t":25,"v":-0.12,"e":0.06},{"g":"2","t":30,"v":-0.1,"e":0.06},{"g":"2","t":35,"v":-0.08,"e":0.06},{"g":"2","t":40,"v":-0.06,"e":0.06},{"g":"2","t":45,"v":-0.05,"e":0.06},{"g":"2","t":50,"v":-0.03,"e":0.06},{"g":"2","t":55,"v":-0.01,"e":0.06},{"g":"2","t":60,"v":0,"e":0.06},{"g":"2","t":65,"v":0.22,"e":0.1},{"g":"2","t":70,"v":0.15,"e":0.14},{"g":"2","t":75,"v":-0.3,"e":0.18},{"g":"2","t":80,"v":-0.7,"e":0.2},{"g":"2","t":85,"v":-0.95,"e":0.2},{"g":"2","t":90,"v":-1.15,"e":0.2},{"g":"2","t":95,"v":-1.33,"e":0.2},{"g":"2","t":100,"v":-1.5,"e":0.2},{"g":"2","t":105,"v":-1.65,"e":0.2},{"g":"2","t":110,"v":-1.8,"e":0.2},{"g":"2","t":115,"v":-1.93,"e":0.2},{"g":"2","t":120,"v":-2.04,"e":0.2},{"g":"2","t":125,"v":-2.13,"e":0.2},{"g":"2","t":130,"v":-2.2,"e":0.2},{"g":"2","t":135,"v":-2.25,"e":0.2},{"g":"2","t":140,"v":-2.28,"e":0.2},{"g":"2","t":145,"v":-2.3,"e":0.2},{"g":"2","t":150,"v":-2.31,"e":0.2},
{"g":"1","t":0,"v":0,"e":0.06},{"g":"1","t":5,"v":0.05,"e":0.06},{"g":"1","t":10,"v":0.08,"e":0.06},{"g":"1","t":15,"v":0.1,"e":0.06},{"g":"1","t":20,"v":0.11,"e":0.06},{"g":"1","t":25,"v":0.12,"e":0.06},{"g":"1","t":30,"v":0.12,"e":0.06},{"g":"1","t":35,"v":0.11,"e":0.06},{"g":"1","t":40,"v":0.1,"e":0.06},{"g":"1","t":45,"v":0.08,"e":0.06},{"g":"1","t":50,"v":0.06,"e":0.06},{"g":"1","t":55,"v":0.02,"e":0.06},{"g":"1","t":60,"v":-0.05,"e":0.06},{"g":"1","t":65,"v":0.3,"e":0.1},{"g":"1","t":70,"v":0.9,"e":0.12},{"g":"1","t":75,"v":1.5,"e":0.15},{"g":"1","t":80,"v":1.95,"e":0.15},{"g":"1","t":85,"v":2.28,"e":0.15},{"g":"1","t":90,"v":2.52,"e":0.15},{"g":"1","t":95,"v":2.68,"e":0.15},{"g":"1","t":100,"v":2.79,"e":0.15},{"g":"1","t":105,"v":2.86,"e":0.15},{"g":"1","t":110,"v":2.91,"e":0.15},{"g":"1","t":115,"v":2.94,"e":0.15},{"g":"1","t":120,"v":2.96,"e":0.15},{"g":"1","t":125,"v":2.98,"e":0.15},{"g":"1","t":130,"v":2.99,"e":0.15},{"g":"1","t":135,"v":2.99,"e":0.15},{"g":"1","t":140,"v":2.98,"e":0.15},{"g":"1","t":145,"v":2.97,"e":0.15},{"g":"1","t":150,"v":2.95,"e":0.15},
{"g":"w","t":0,"v":-0.12,"e":0.06},{"g":"w","t":5,"v":-0.08,"e":0.06},{"g":"w","t":10,"v":-0.04,"e":0.06},{"g":"w","t":15,"v":0,"e":0.06},{"g":"w","t":20,"v":0.03,"e":0.06},{"g":"w","t":25,"v":0.05,"e":0.06},{"g":"w","t":30,"v":0.06,"e":0.06},{"g":"w","t":35,"v":0.06,"e":0.06},{"g":"w","t":40,"v":0.05,"e":0.06},{"g":"w","t":45,"v":0.05,"e":0.06},{"g":"w","t":50,"v":0.04,"e":0.06},{"g":"w","t":55,"v":0.02,"e":0.06},{"g":"w","t":60,"v":0,"e":0.06},{"g":"w","t":65,"v":0.4,"e":0.12},{"g":"w","t":70,"v":1,"e":0.16},{"g":"w","t":75,"v":1.6,"e":0.2},{"g":"w","t":80,"v":2.05,"e":0.22},{"g":"w","t":85,"v":2.38,"e":0.22},{"g":"w","t":90,"v":2.62,"e":0.22},{"g":"w","t":95,"v":2.8,"e":0.22},{"g":"w","t":100,"v":2.92,"e":0.22},{"g":"w","t":105,"v":3.01,"e":0.22},{"g":"w","t":110,"v":3.07,"e":0.22},{"g":"w","t":115,"v":3.12,"e":0.22},{"g":"w","t":120,"v":3.15,"e":0.22},{"g":"w","t":125,"v":3.17,"e":0.22},{"g":"w","t":130,"v":3.18,"e":0.22},{"g":"w","t":135,"v":3.17,"e":0.22},{"g":"w","t":140,"v":3.16,"e":0.22},{"g":"w","t":145,"v":3.14,"e":0.22},{"g":"w","t":150,"v":3.12,"e":0.22}
],
"L":[
{"g":"w","pb":"-","ph":"WT","n":"Wild Type"},{"g":"b","pb":"+","ph":"WT","n":"phyB"},{"g":"1","pb":"-","ph":"phot1","n":"phot1"},{"g":"1b","pb":"+","ph":"phot1","n":"phot1phyB"},{"g":"2","pb":"-","ph":"phot2","n":"phot2"},{"g":"2b","pb":"+","ph":"phot2","n":"phot2phyB"}
]
},
"spacing":14,
"vconcat":[
{"hconcat":[
{"title":{"text":"A","dx":-26},"width":189,"height":164,"data":{"name":"A"},
 "layer":[
  {"encoding":{"x":{"field":"t","type":"quantitative","scale":{"domain":[-10,160]},"axis":{"values":[0,20,40,60,80,100,120,140,160],"tickCount":20,"title":"Time (min)","labelOverlap":false,"labelFlush":false,"titleFontWeight":"normal"}},
    "y":{"field":"v","type":"quantitative","scale":{"domain":[-3,2]},"axis":{"values":[-3,-2,-1,0,1,2],"tickCount":20,"title":"Δ % Transmittance","labelOverlap":false,"titleFontWeight":"normal"}}},
   "layer":[
    {"mark":{"type":"errorbar","ticks":{"size":3},"thickness":0.6},"encoding":{"yError":{"field":"e"},"color":{"field":"g","type":"nominal","scale":{"domain":["w","b","1","1b","2","2b"],"range":["#8f9ad6","#c9b8ea","#d68a8e","#ecb0b3","#8cc08c","#c2d8ba"]},"legend":null}}},
    {"mark":{"type":"line","strokeWidth":0.7},"encoding":{"stroke":{"field":"g","type":"nominal","scale":{"domain":["w","b","1","1b","2","2b"],"range":["#2c3e94","#8b6cc8","#a3242b","#d9777c","#2d6b34","#9fbf96"]},"legend":null}}},
    {"mark":{"type":"point","filled":true,"size":18,"strokeWidth":0.8,"opacity":1},"encoding":{
      "shape":{"field":"g","type":"nominal","scale":{"domain":["w","b","1","1b","2","2b"],"range":["circle","triangle-up","diamond","diamond","square","M-1.3,-1.3L1.3,-1.3L1.3,1.3L-1.3,1.3Z"]},"legend":null},
      "fill":{"field":"g","type":"nominal","scale":{"domain":["w","b","1","1b","2","2b"],"range":["#2c3e94","white","#a3242b","white","#2d6b34","white"]},"legend":null},
      "stroke":{"field":"g","type":"nominal","legend":null}}}
   ]},
  {"data":{"values":[{"s":"10 μmol m⁻² s⁻¹"}]},"mark":{"type":"text","align":"left","baseline":"alphabetic","fontSize":11,"fontWeight":"bold","color":"#111"},"encoding":{"x":{"datum":0},"y":{"datum":1.33},"text":{"field":"s"}}}
 ]},
{"title":{"text":"B","dx":-34},"width":186,"height":164,"data":{"name":"B"},
 "layer":[
  {"encoding":{"x":{"field":"t","type":"quantitative","scale":{"domain":[-10,160]},"axis":{"values":[0,20,40,60,80,100,120,140,160],"tickCount":20,"title":"Time (min)","labelOverlap":false,"labelFlush":false,"titleFontWeight":"normal"}},
    "y":{"field":"v","type":"quantitative","scale":{"domain":[-3,2]},"axis":{"values":[-3,-2,-1,0,1,2],"tickCount":20,"title":"Δ % Transmittance","titlePadding":7,"labelOverlap":false,"titleFontWeight":"normal"}}},
   "layer":[
    {"mark":{"type":"errorbar","ticks":{"size":3},"thickness":0.6},"encoding":{"yError":{"field":"e"},"color":{"field":"g","type":"nominal","legend":null}}},
    {"mark":{"type":"line","strokeWidth":0.7},"encoding":{"stroke":{"field":"g","type":"nominal","legend":null}}},
    {"mark":{"type":"point","filled":true,"size":18,"strokeWidth":0.8,"opacity":1},"encoding":{"shape":{"field":"g","type":"nominal","legend":null},"fill":{"field":"g","type":"nominal","legend":null},"stroke":{"field":"g","type":"nominal","legend":null}}}
   ]},
  {"data":{"values":[{"s":"20 μmol m⁻² s⁻¹"}]},"mark":{"type":"text","align":"left","baseline":"alphabetic","fontSize":11,"fontWeight":"bold","color":"#111"},"encoding":{"x":{"datum":-3},"y":{"datum":1.33},"text":{"field":"s"}}}
 ]}
],"spacing":4},
{"hconcat":[
{"title":{"text":"C","dx":-27},"width":189,"height":164,"data":{"name":"C"},
 "layer":[
  {"encoding":{"x":{"field":"t","type":"quantitative","scale":{"domain":[-10,160]},"axis":{"values":[0,20,40,60,80,100,120,140,160],"tickCount":20,"title":"Time (min)","labelOverlap":false,"labelFlush":false,"titleFontWeight":"normal"}},
    "y":{"field":"v","type":"quantitative","scale":{"domain":[-3,5]},"axis":{"values":[-3,-2,-1,0,1,2,3,4,5],"tickCount":20,"title":"Δ % Transmittance","labelOverlap":false,"titleFontWeight":"normal"}}},
   "layer":[
    {"mark":{"type":"errorbar","ticks":{"size":3},"thickness":0.6},"encoding":{"yError":{"field":"e"},"color":{"field":"g","type":"nominal","legend":null}}},
    {"mark":{"type":"line","strokeWidth":0.7},"encoding":{"stroke":{"field":"g","type":"nominal","legend":null}}},
    {"mark":{"type":"point","filled":true,"size":18,"strokeWidth":0.8,"opacity":1},"encoding":{"shape":{"field":"g","type":"nominal","legend":null},"fill":{"field":"g","type":"nominal","legend":null},"stroke":{"field":"g","type":"nominal","legend":null}}}
   ]},
  {"data":{"values":[{"s":"40 μmol m⁻² s⁻¹"}]},"mark":{"type":"text","align":"left","baseline":"alphabetic","fontSize":11,"fontWeight":"bold","color":"#111"},"encoding":{"x":{"datum":2},"y":{"datum":4.12},"text":{"field":"s"}}}
 ]},
{"title":{"text":"D","dx":-34},"width":186,"height":164,"data":{"name":"D"},
 "layer":[
  {"encoding":{"x":{"field":"t","type":"quantitative","scale":{"domain":[-10,160]},"axis":{"values":[0,20,40,60,80,100,120,140,160],"tickCount":20,"title":"Time (min)","labelOverlap":false,"labelFlush":false,"titleFontWeight":"normal"}},
    "y":{"field":"v","type":"quantitative","scale":{"domain":[-3,5]},"axis":{"values":[-3,-2,-1,0,1,2,3,4,5],"tickCount":20,"title":"Δ % Transmittance","titlePadding":7,"labelOverlap":false,"titleFontWeight":"normal"}}},
   "layer":[
    {"mark":{"type":"errorbar","ticks":{"size":3},"thickness":0.6},"encoding":{"yError":{"field":"e"},"color":{"field":"g","type":"nominal","legend":null}}},
    {"mark":{"type":"line","strokeWidth":0.7},"encoding":{"stroke":{"field":"g","type":"nominal","legend":null}}},
    {"mark":{"type":"point","filled":true,"size":18,"strokeWidth":0.8,"opacity":1},"encoding":{"shape":{"field":"g","type":"nominal","legend":null},"fill":{"field":"g","type":"nominal","legend":null},"stroke":{"field":"g","type":"nominal","legend":null}}}
   ]},
  {"data":{"values":[{"s":"75 μmol m⁻² s⁻¹"}]},"mark":{"type":"text","align":"left","baseline":"alphabetic","fontSize":11,"fontWeight":"bold","color":"#111"},"encoding":{"x":{"datum":1},"y":{"datum":4.07},"text":{"field":"s"}}}
 ]}
],"spacing":2},
{"hconcat":[
{"title":{"text":"E","dx":-26},"width":190,"height":165,"data":{"name":"E"},
 "layer":[
  {"encoding":{"x":{"field":"t","type":"quantitative","scale":{"domain":[-10,160]},"axis":{"values":[0,20,40,60,80,100,120,140,160],"tickCount":20,"title":"Time (min)","labelOverlap":false,"labelFlush":false,"titleFontWeight":"normal"}},
    "y":{"field":"v","type":"quantitative","scale":{"domain":[-3,5]},"axis":{"values":[-3,-2,-1,0,1,2,3,4,5],"tickCount":20,"title":"Δ % Transmittance","labelOverlap":false,"titleFontWeight":"normal"}}},
   "layer":[
    {"mark":{"type":"errorbar","ticks":{"size":3},"thickness":0.6},"encoding":{"yError":{"field":"e"},"color":{"field":"g","type":"nominal","legend":null}}},
    {"mark":{"type":"line","strokeWidth":0.7},"encoding":{"stroke":{"field":"g","type":"nominal","legend":null}}},
    {"mark":{"type":"point","filled":true,"size":18,"strokeWidth":0.8,"opacity":1},"encoding":{"shape":{"field":"g","type":"nominal","legend":null},"fill":{"field":"g","type":"nominal","legend":null},"stroke":{"field":"g","type":"nominal","legend":null}}}
   ]},
  {"data":{"values":[{"s":"100 μmol m⁻² s⁻¹"}]},"mark":{"type":"text","align":"left","baseline":"alphabetic","fontSize":11,"fontWeight":"bold","color":"#111"},"encoding":{"x":{"datum":1},"y":{"datum":4.02},"text":{"field":"s"}}}
 ]},
{"width":189,"height":158,"data":{"name":"L"},
 "encoding":{"x":{"field":"pb","type":"nominal","scale":{"type":"point","domain":["-","+"],"padding":0.3915,"align":0},"axis":null},
   "y":{"field":"ph","type":"nominal","scale":{"type":"point","domain":["WT","phot1","phot2"],"padding":0.1286},"axis":null}},
 "layer":[
  {"mark":{"type":"point","filled":true,"size":45,"strokeWidth":1,"opacity":1,"xOffset":6},"encoding":{"shape":{"field":"g","type":"nominal","legend":null},"fill":{"field":"g","type":"nominal","legend":null},"stroke":{"field":"g","type":"nominal","legend":null}}},
  {"transform":[{"filter":"datum.g=='w'"}],"mark":{"type":"text","align":"left","baseline":"middle","xOffset":13,"fontSize":13,"font":"Liberation Sans","color":"#34479c"},"encoding":{"text":{"field":"n"}}},
  {"transform":[{"filter":"datum.g=='b'"}],"mark":{"type":"text","align":"left","baseline":"middle","xOffset":13,"fontSize":13,"font":"Liberation Sans","fontStyle":"italic","color":"#7a5cb4"},"encoding":{"text":{"field":"n"}}},
  {"transform":[{"filter":"datum.g=='1'||datum.g=='1b'"}],"mark":{"type":"text","align":"left","baseline":"middle","xOffset":13,"fontSize":13,"font":"Liberation Sans","fontStyle":"italic","color":"#a3303a"},"encoding":{"text":{"field":"n"}}},
  {"transform":[{"filter":"datum.g=='2'||datum.g=='2b'"}],"mark":{"type":"text","align":"left","baseline":"middle","xOffset":13,"fontSize":13,"font":"Liberation Sans","fontStyle":"italic","color":"#2f6537"},"encoding":{"text":{"field":"n"}}}
 ]}
],"spacing":41}
]
}
